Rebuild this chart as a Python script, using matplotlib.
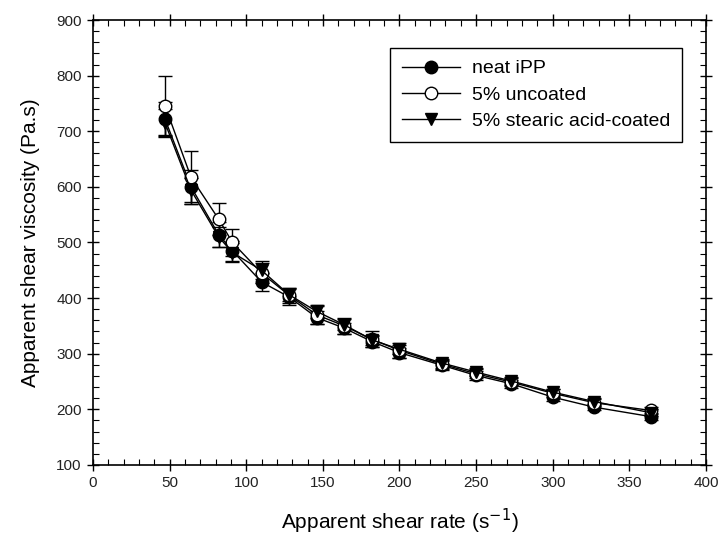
import matplotlib.pyplot as plt
from matplotlib.lines import Line2D
from matplotlib.ticker import MultipleLocator

# shear rate (1/s)
shear_rate = [47, 64, 82, 91, 110, 128, 146, 164, 182, 200, 228, 250, 273, 300, 327, 364]

# apparent shear viscosity (Pa.s)
neat_ipp = [722, 600, 514, 485, 429, 402, 365, 346, 322, 302, 279, 261, 246, 222, 204, 187]
uncoated = [746, 617, 542, 500, 445, 405, 370, 350, 326, 306, 281, 264, 249, 229, 212, 198]
stearic = [715, 594, 510, 482, 450, 406, 376, 352, 325, 308, 283, 267, 251, 231, 214, 194]

neat_err = [30, 30, 22, 18, 16, 14, 12, 10, 10, 9, 8, 8, 7, 7, 6, 6]
uncoated_err = [53, 48, 29, 25, 18, 14, 16, 14, 14, 14, 8, 8, 7, 7, 6, 6]
stearic_err = [25, 22, 18, 17, 16, 12, 12, 10, 9, 8, 8, 7, 7, 6, 6, 6]

labels = ['neat iPP', '5% uncoated', '5% stearic acid-coated']

plt.rcParams['font.family'] = ['Liberation Sans', 'DejaVu Sans']

fig = plt.figure(figsize=(7.23, 5.45), dpi=100)
ax = fig.add_axes([0.1286, 0.1468, 0.8479, 0.8165])

styles = [('o', 'black'), ('o', 'white'), ('v', 'black')]
series = [(neat_ipp, neat_err), (uncoated, uncoated_err), (stearic, stearic_err)]
handles = []
for (vals, err), (mk, fc), lab in zip(series, styles, labels):
    ax.errorbar(shear_rate, vals, yerr=err, marker=mk, mfc=fc, mec='black', ms=9,
                color='black', lw=1.0, capsize=5, elinewidth=1.0, capthick=1.0)
    handles.append(Line2D([], [], color='black', lw=1.0, marker=mk, mfc=fc,
                          mec='black', ms=9, label=lab))

ax.set_xlim(0, 400)
ax.set_ylim(100, 900)
ax.xaxis.set_major_locator(MultipleLocator(50))
ax.xaxis.set_minor_locator(MultipleLocator(10))
ax.yaxis.set_major_locator(MultipleLocator(100))
ax.yaxis.set_minor_locator(MultipleLocator(20))

ax.tick_params(which='major', direction='inout', length=9, width=1.0,
               top=True, right=True, labelsize=11, labelcolor='#222222')
ax.tick_params(which='minor', direction='in', length=4, width=0.8, top=True, right=True)
for s in ax.spines.values():
    s.set_linewidth(1.2)

ax.set_xlabel('Apparent shear rate (s$^{-1}$)', fontsize=15, labelpad=12)
ax.set_ylabel('Apparent shear viscosity (Pa.s)', fontsize=15, labelpad=12)

leg = ax.legend(handles=handles, loc='upper right', bbox_to_anchor=(0.961, 0.937),
                borderaxespad=0, fontsize=14, frameon=True, fancybox=False,
                edgecolor='black', framealpha=1, handlelength=3.0, borderpad=0.6,
                labelspacing=0.45, handletextpad=0.6)
leg.get_frame().set_linewidth(1.0)

plt.savefig('out.png', dpi=100)
